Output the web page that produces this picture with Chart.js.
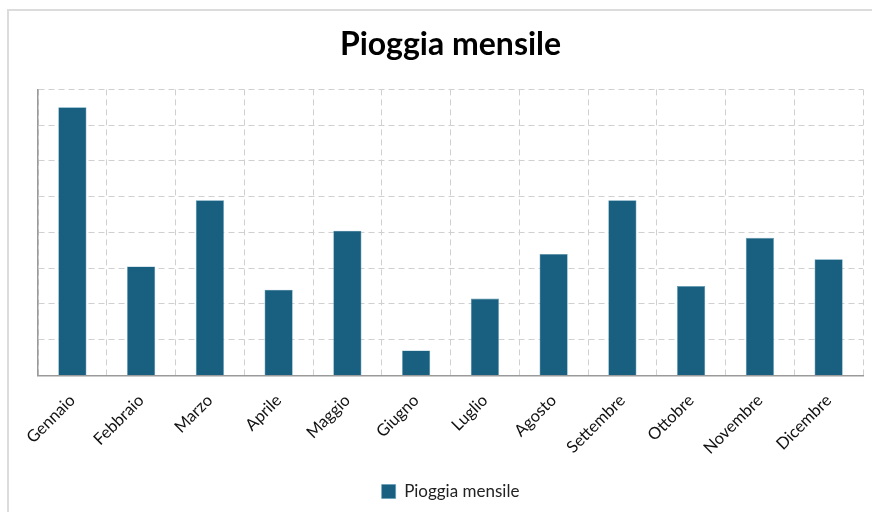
<!DOCTYPE html>
<html>
<head>
<meta charset="utf-8">
<script src="https://cdn.jsdelivr.net/npm/chart.js@4.4.0/dist/chart.umd.min.js"></script>
<style>
  html, body { margin: 0; padding: 0; background: #fff; overflow: hidden; }
  #frame { position: absolute; left: 7px; top: 9px; width: 900px; height: 600px; border: 2px solid #dcdcdc; }
  #wrap { position: absolute; left: 0; top: 0; width: 872px; height: 512px; }
</style>
</head>
<body>
<div id="frame"></div>
<div id="wrap"><canvas id="rainChart"></canvas></div>
<script>
// Months and monthly rain (mm)
const months = ['Gennaio', 'Febbraio', 'Marzo', 'Aprile', 'Maggio', 'Giugno',
                'Luglio', 'Agosto', 'Settembre', 'Ottobre', 'Novembre', 'Dicembre'];
const rainValues = [150, 61, 98, 48, 81, 14, 43, 68, 98, 50, 77, 65];
const seriesName = 'Pioggia mensile';
const titleText = 'Pioggia mensile';

const barColor = '#185f80';
const gridColor = '#d0d0d0';
const axisColor = '#9a9a9a';

const ctx = document.getElementById('rainChart').getContext('2d');
new Chart(ctx, {
    type: 'bar',
    data: {
        labels: months,
        datasets: [{
            label: seriesName,
            data: rainValues,
            backgroundColor: barColor,
            borderColor: '#5d9ab5',
            borderWidth: 0.6,
            barPercentage: 0.41,
            categoryPercentage: 1
        }]
    },
    options: {
        responsive: true,
        maintainAspectRatio: false,
        animation: false,
        layout: { padding: { left: 38, right: 9, top: 12, bottom: 2 } },
        plugins: {
            title: {
                display: true,
                text: titleText,
                color: '#000',
                font: { family: 'Lato', size: 32, weight: 'bold' },
                padding: { top: 13, bottom: 26 }
            },
            legend: {
                position: 'bottom',
                labels: {
                    color: '#222',
                    font: { family: 'Lato', size: 17 },
                    boxWidth: 14,
                    boxHeight: 14,
                    padding: 10
                }
            },
            tooltip: { enabled: false }
        },
        scales: {
            x: {
                grid: { color: gridColor, drawTicks: false, offset: true },
                border: { color: axisColor, width: 1.5, dash: [6, 4] },
                ticks: {
                    color: '#111',
                    font: { family: 'Lato', size: 16.5 },
                    minRotation: 45,
                    maxRotation: 45,
                    padding: 15
                }
            },
            y: {
                min: 0,
                max: 160,
                ticks: { display: false, stepSize: 20 },
                grid: { color: gridColor, drawTicks: false },
                border: { color: axisColor, width: 1.5, dash: [6, 4] }
            }
        }
    }
});
</script>
</body>
</html>
